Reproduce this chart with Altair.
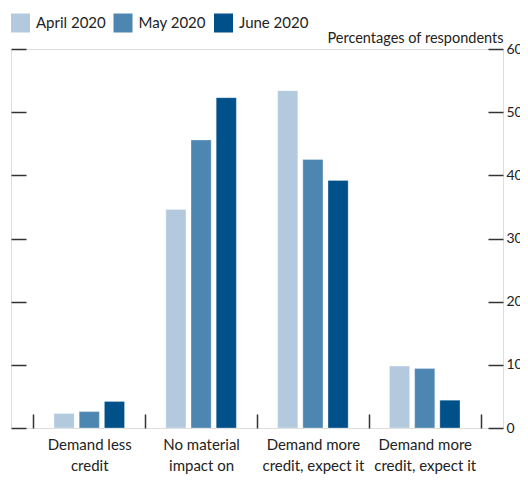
import altair as alt
import pandas as pd

categories = [
    "Demand less|credit",
    "No material|impact on|credit demand",
    "Demand more|credit, expect it|to be available",
    "Demand more|credit, expect it|to be unavailable",
]
series = ["April 2020", "May 2020", "June 2020"]
april = [2.3, 34.6, 53.4, 9.8]
may = [2.6, 45.6, 42.5, 9.4]
june = [4.2, 52.3, 39.2, 4.4]
colors = ["#b3cade", "#4d87b1", "#00518a"]
y_ticks = [0, 10, 20, 30, 40, 50, 60]

rows = []
for s, vals in zip(series, [april, may, june]):
    for c, v in zip(categories, vals):
        rows.append({"category": c, "series": s, "value": v})
df = pd.DataFrame(rows)

FONT = "Lato"
TXT = "#222222"
LINE = "#333333"

yscale = alt.Scale(domain=[0, 60], nice=False, zero=True)

bars = alt.Chart(df).mark_bar(stroke="#ffffff", strokeWidth=0.6, strokeOpacity=0.5).encode(
    x=alt.X(
        "category:N",
        sort=categories,
        scale=alt.Scale(paddingInner=0, paddingOuter=0.2),
        axis=alt.Axis(
            title=None,
            labelExpr="split(datum.label, '|')",
            labelAngle=0,
            tickBand="extent",
            tickSize=alt.ExprRef("-14"),
            tickColor=LINE,
            tickWidth=1.5,
            labelPadding=23,
            labelFont=FONT,
            labelFontSize=15,
            labelColor=TXT,
            labelLineHeight=21,
            domain=False,
        ),
    ),
    xOffset=alt.XOffset(
        "series:N", sort=series, scale=alt.Scale(paddingInner=0.2, paddingOuter=0.82)
    ),
    y=alt.Y(
        "value:Q",
        scale=yscale,
        axis=alt.Axis(
            orient="left",
            title=None,
            labels=False,
            values=y_ticks,
            tickSize=alt.ExprRef("-15"),
            tickColor=LINE,
            tickWidth=1.5,
            domain=False,
            grid=False,
        ),
    ),
    color=alt.Color(
        "series:N",
        sort=series,
        scale=alt.Scale(domain=series, range=colors),
        legend=alt.Legend(
            orient="none",
            legendX=0,
            legendY=-35.5,
            direction="horizontal",
            title=None,
            symbolType="square",
            symbolSize=361,
            symbolStrokeWidth=0,
            symbolOpacity=1,
            labelFont=FONT,
            labelFontSize=15,
            labelColor=TXT,
            labelOffset=6,
            columnPadding=7.5,
            padding=0,
        ),
    ),
)

right = alt.Chart(df).mark_point(opacity=0).encode(
    y=alt.Y(
        "value:Q",
        scale=yscale,
        axis=alt.Axis(
            orient="right",
            title="Percentages of respondents",
            titleAngle=0,
            titleAlign="right",
            titleBaseline="alphabetic",
            titleX=0,
            titleY=-7,
            titleFont=FONT,
            titleFontSize=14.5,
            titleFontWeight="normal",
            titleColor=TXT,
            values=y_ticks,
            tickSize=alt.ExprRef("-15"),
            tickColor=LINE,
            tickWidth=1.5,
            labelPadding=18,
            labelFont=FONT,
            labelFontSize=14,
            labelColor=TXT,
            domain=False,
            grid=False,
        ),
    ),
)

chart = (
    alt.layer(bars, right)
    .resolve_axis(y="independent")
    .properties(
        width=492,
        height=379,
        autosize=alt.AutoSizeParams(type="none"),
        padding={"left": 3, "top": 41, "right": 17, "bottom": 48},
    )
    .configure_view(stroke=LINE, strokeWidth=1.5)
    .configure(background="white")
)

chart.save("out.html", embed_options={"renderer": "svg", "actions": False})
